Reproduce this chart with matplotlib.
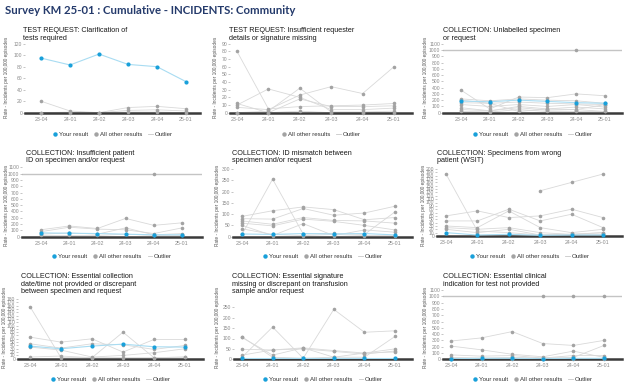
import matplotlib
matplotlib.use('Agg')
import matplotlib.pyplot as plt
from matplotlib.lines import Line2D

# ---- data ----
periods = ['23-04', '24-01', '24-02', '24-03', '24-04', '25-01']

titles = [
    'TEST REQUEST: Clarification of\ntests required',
    'TEST REQUEST: Insufficient requester\ndetails or signature missing',
    'COLLECTION: Unlabelled specimen\nor request',
    'COLLECTION: Insufficient patient\nID on specimen and/or request',
    'COLLECTION: ID mismatch between\nspecimen and/or request',
    'COLLECTION: Specimens from wrong\npatient (WSIT)',
    'COLLECTION: Essential collection\ndate/time not provided or discrepant\nbetween specimen and request',
    'COLLECTION: Essential signature\nmissing or discrepant on transfusion\nsample and/or request',
    'COLLECTION: Essential clinical\nindication for test not provided',
]

clar_yours = [95, 83, 102, 84, 80, 54]
clar_others = [[20, 3, 0, 9, 11, 7],
               [0, 1, 0, 4, 5, 3],
               [0, 0, 0, 1, 1, 0]]
clar_outlier = None

reqr_yours = None
reqr_others = [[80, 5, 8, 9, 10, 12],
               [10, 31, 20, 4, 4, 6],
               [0, 2, 32, 1, 1, 2],
               [7, 4, 23, 34, 25, 60],
               [12, 0, 18, 8, 8, 9],
               [0, 0, 2, 0, 0, 0]]
reqr_outlier = None

unlab_yours = [185, 175, 200, 180, 160, 150]
unlab_others = [[360, 60, 250, 240, 300, 270],
                [220, 190, 220, 200, 190, 150],
                [160, 150, 170, 150, None, 130],
                [130, 100, 130, 100, 130, 90],
                [80, 30, 100, 60, 90, 60],
                [50, 30, 80, 40, 50, 20],
                [20, 10, 50, 20, 20, 20],
                [200, 150, 20, 60, 50, 130]]
unlab_outlier = [None, None, None, None, 1000, None]

patid_yours = [60, 55, 50, 40, 30, 30]
patid_others = [[110, 170, 130, 290, 180, 220],
                [80, 150, 120, 110, 50, 140],
                [40, 60, 40, 140, 30, 50],
                [20, 20, 20, 40, 20, 20]]
patid_outlier = [None, None, None, None, 1000, None]

mism_yours = [12, 10, 14, 12, 14, 8]
mism_others = [[10, 255, 12, 15, 10, 110],
               [90, 115, 132, 120, 75, 85],
               [80, 78, 125, 95, 105, 135],
               [70, 55, 85, 72, 70, 60],
               [60, 48, 78, 68, 50, 30],
               [50, 5, 58, 5, 30, 20],
               [35, 10, 5, 10, 5, 5]]
mism_outlier = None

wsit_yours = [10, 3, 5, 2, 3, 3]
wsit_others = [[None, None, None, 135, 160, 185],
               [185, 15, 10, 3, 5, 10],
               [60, 75, 55, 60, 80, 55],
               [45, 45, 80, 45, 65, 25],
               [30, 25, 75, 25, 10, 20],
               [25, 20, 25, 10, 5, 5],
               [20, 10, 20, 3, 5, 10]]
wsit_outlier = None

cdate_yours = [38, 30, 38, 44, 36, 35]
cdate_others = [[157, 3, 3, 80, 3, 5],
                [65, 50, 60, 20, 58, 58],
                [45, 32, 45, 42, 28, 40],
                [35, 26, 5, 10, 18, 30],
                [5, 8, 3, 3, 3, 5]]
cdate_outlier = None

sign_yours = [5, 5, 5, 5, 5, 5]
sign_others = [[10, 155, 5, 240, 130, 137],
               [108, 10, 5, 10, 10, 110],
               [48, 45, 55, 42, 30, 50],
               [20, 45, 50, 38, 25, 40],
               [105, 20, 55, 10, 30, 35]]
sign_outlier = None

clin_yours = [10, 15, 15, 10, 15, 15]
clin_others = [[290, 340, 440, 250, 220, 300],
               [210, 150, 80, 40, 130, 30],
               [70, 50, 60, 20, 30, 220],
               [30, 20, 30, 20, 60, 60],
               [10, 10, 10, 5, 10, 10]]
clin_outlier = [None, None, None, 1000, 1000, 1000]

# y axis: (top tick, step)
y_scales = [(120, 20), (90, 10), (1100, 100),
            (1100, 100), (300, 50), (200, 10),
            (180, 10), (250, 50), (1100, 100)]

panels = [
    (clar_yours, clar_others, clar_outlier),
    (reqr_yours, reqr_others, reqr_outlier),
    (unlab_yours, unlab_others, unlab_outlier),
    (patid_yours, patid_others, patid_outlier),
    (mism_yours, mism_others, mism_outlier),
    (wsit_yours, wsit_others, wsit_outlier),
    (cdate_yours, cdate_others, cdate_outlier),
    (sign_yours, sign_others, sign_outlier),
    (clin_yours, clin_others, clin_outlier),
]

# ---- layout in pixels ----
# axis left/right edge, x of first/last period, y of 0 and of top tick
W, H = 629, 387
edges = [(25, 200), (230, 412), (443, 622),
         (22, 202), (233, 412), (437, 622),
         (18, 203), (234, 412), (443, 622)]
boxes = [(41, 186, 112.7, 43.7), (237, 394, 112.7, 43.7), (461, 605, 112.7, 43.7),
         (41, 182, 236.7, 167.3), (242, 395, 236.7, 169), (446, 603, 236.0, 169),
         (30, 185, 358.7, 299), (242, 395, 359.3, 307.3), (451, 604, 359.3, 290)]
title_pos = [(23, 27), (229, 27), (443, 27),
             (26, 150), (232, 150), (437, 150),
             (21, 273), (232, 273), (443, 273)]
ylabel_x = [7, 215, 425, 7, 217, 423, 5, 217, 425]
ylabel_y = [77, 77, 77, 205, 205, 205, 327, 327, 327]
legend_y = [134, 134, 134, 256.7, 256.7, 256.7, 379, 379, 379]

BLUE = '#19a0da'
BLUE_LINE = '#a8dcf2'
GREY = '#a3a3a3'
GREY_LINE = '#d9d9d9'
FONT = 'Liberation Sans'

fig = plt.figure(figsize=(W / 100, H / 100), dpi=100)
fig.text(5 / W, 1 - 10 / H, 'Survey KM 25-01 : Cumulative - INCIDENTS: Community',
         fontsize=8.2, fontweight='bold', color='#243a6b', family='Lato', va='center')

x = list(range(len(periods)))

for i, (yours, others, outlier) in enumerate(panels):
    x0, x5, y0, ytop = boxes[i]
    left, right = edges[i]
    dx = (x5 - x0) / 5
    ax = fig.add_axes([left / W, (H - y0) / H, (right - left) / W, (y0 - ytop) / H])
    ymax, step = y_scales[i]

    if outlier is not None:
        ax.axhline(1000, color='#c4c4c4', lw=1.0, zorder=1)

    for s in others:
        xs = [a for a, v in zip(x, s) if v is not None]
        vs = [v for v in s if v is not None]
        ax.plot(xs, vs, color=GREY_LINE, lw=0.6, zorder=2)
        ax.plot(xs, vs, 'o', color=GREY, ms=2.6, mew=0, zorder=3, clip_on=False)
    if outlier is not None:
        xs = [a for a, v in zip(x, outlier) if v is not None]
        vs = [v for v in outlier if v is not None]
        ax.plot(xs, vs, 'o', color=GREY, ms=2.6, mew=0, zorder=3, clip_on=False)
    if yours is not None:
        ax.plot(x, yours, color=BLUE_LINE, lw=0.8, zorder=4)
        ax.plot(x, yours, 'o', color=BLUE, ms=3.0, mew=0, zorder=5, clip_on=False)

    ax.set_xlim(-(x0 - left) / dx, 5 + (right - x5) / dx)
    ax.set_ylim(0, ymax)
    ax.set_yticks(list(range(0, ymax + 1, step)))
    ax.set_xticks(x)
    ax.set_xticklabels(periods)
    for side in ['left', 'right', 'top']:
        ax.spines[side].set_visible(False)
    ax.spines['bottom'].set_color('#3a3a3a')
    ax.spines['bottom'].set_linewidth(1.8)
    ax.spines['bottom'].set_zorder(2.5)
    ax.tick_params(axis='y', length=1.5, width=0.4, color='#9a9a9a', pad=0.5,
                   labelsize=3.6, labelcolor='#8a8a8a')
    ax.tick_params(axis='x', length=0, pad=3, labelsize=3.8, labelcolor='#8a8a8a')
    for lab in ax.get_xticklabels() + ax.get_yticklabels():
        lab.set_family(FONT)
    ax.patch.set_alpha(0)

    fig.text(title_pos[i][0] / W, 1 - title_pos[i][1] / H, titles[i], fontsize=5.2,
             family=FONT, color='#1a1a1a', va='top', ha='left', linespacing=1.1)
    fig.text(ylabel_x[i] / W, 1 - ylabel_y[i] / H, 'Rate - Incidents per 100,000 episodes',
             rotation=90, fontsize=3.4, family=FONT, color='#555555', va='center', ha='center')

    handles = []
    if yours is not None:
        handles.append(Line2D([], [], marker='o', ls='', color=BLUE, ms=3.2, mew=0,
                              label='Your result'))
    handles.append(Line2D([], [], marker='o', ls='', color=GREY, ms=3.2, mew=0,
                          label='All other results'))
    handles.append(Line2D([], [], color='#c8c8c8', lw=0.6, label='Outlier'))
    cx = (left + right) / 2
    fig.legend(handles=handles, loc='center', bbox_to_anchor=(cx / W, 1 - legend_y[i] / H),
               ncol=len(handles), frameon=False, prop={'family': FONT, 'size': 4.4},
               handlelength=0.7, handletextpad=0.3, columnspacing=1.0, borderpad=0,
               labelcolor='#333333')

fig.savefig('out.png', dpi=100)
